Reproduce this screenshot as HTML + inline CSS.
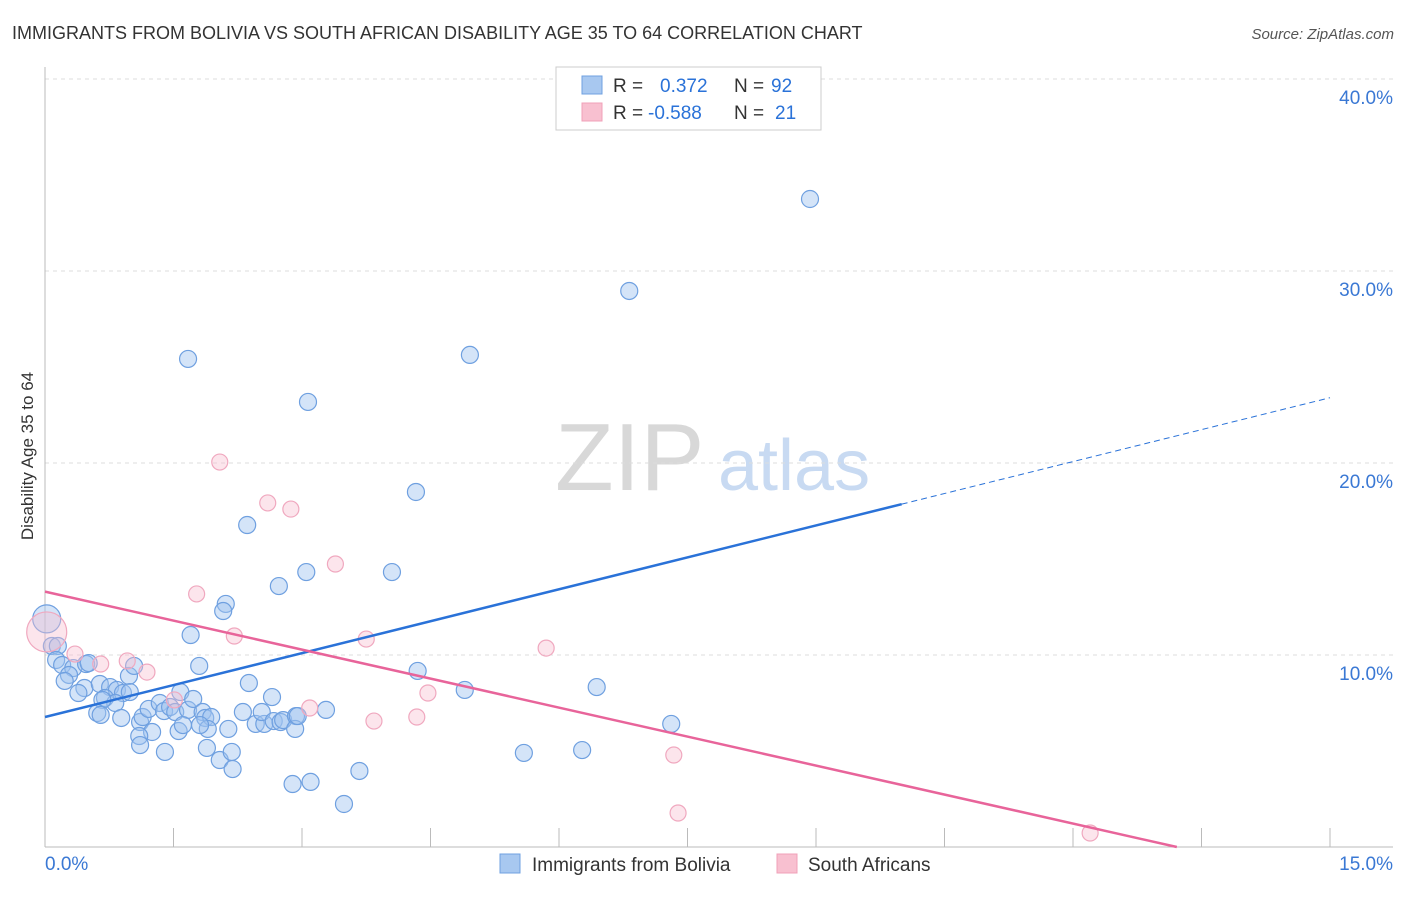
<!DOCTYPE html>
<html><head><meta charset="utf-8"><style>
body{margin:0;background:#fff;font-family:"Liberation Sans",sans-serif}
svg text{font-family:"Liberation Sans",sans-serif}
</style></head><body>
<svg id="chart" width="1406" height="892" xmlns="http://www.w3.org/2000/svg">
<text x="12" y="39" font-size="18" fill="#333">IMMIGRANTS FROM BOLIVIA VS SOUTH AFRICAN DISABILITY AGE 35 TO 64 CORRELATION CHART</text>
<text x="1394" y="39" font-size="15" fill="#555" text-anchor="end" font-style="italic">Source: ZipAtlas.com</text>
<text transform="translate(33,456) rotate(-90)" font-size="17" fill="#333" text-anchor="middle">Disability Age 35 to 64</text>
<g>
<text x="555" y="490" font-size="96" fill="#d8d8d8" font-family="Liberation Serif,serif">ZIP</text>
<text x="718" y="490" font-size="72" fill="#c8daf2">atlas</text>
</g>
<g id="grid"></g>
<g id="axes"></g>
<g id="marks"></g>
<g>
<rect x="556" y="67" width="265" height="63" fill="#fff" stroke="#ccc"/>
<rect x="582" y="76" width="20" height="18" fill="#a8c8f0" stroke="#6fa0e0"/>
<rect x="582" y="103" width="20" height="18" fill="#f8c0d0" stroke="#f0a0b8"/>
<text x="613" y="92" font-size="19" fill="#333">R =</text>
<text x="660" y="92" font-size="19" fill="#2a72d8">0.372</text>
<text x="734" y="92" font-size="19" fill="#333">N =</text>
<text x="771" y="92" font-size="19" fill="#2a72d8">92</text>
<text x="613" y="119" font-size="19" fill="#333">R =</text>
<text x="648" y="119" font-size="19" fill="#2a72d8">-0.588</text>
<text x="734" y="119" font-size="19" fill="#333">N =</text>
<text x="775" y="119" font-size="19" fill="#2a72d8">21</text>
</g>
<g>
<rect x="500" y="854" width="20" height="19" fill="#a8c8f0" stroke="#6fa0e0"/>
<text x="532" y="871" font-size="19" fill="#333">Immigrants from Bolivia</text>
<rect x="777" y="854" width="20" height="19" fill="#f8c0d0" stroke="#f0a0b8"/>
<text x="808" y="871" font-size="19" fill="#333">South Africans</text>
</g>
</svg>
<script>
const yTicks=[10,20,30,40];
const yTickLabels=["10.0%","20.0%","30.0%","40.0%"];
const xTicks=[0,1.5,3,4.5,6,7.5,9,10.5,12,13.5,15];
const blueX=[8.93,6.82,1.67,4.96,3.07,4.33,2.36,4.05,3.05,2.73,2.11,2.08,1.70,0.02,0.08,0.15,0.13,0.20,0.33,0.48,0.51,0.28,0.23,0.46,0.39,0.64,0.76,0.84,0.91,0.98,1.04,0.99,0.70,0.82,0.67,0.61,0.65,0.89,1.11,1.14,1.25,1.21,1.34,1.39,1.46,1.52,1.58,1.67,1.73,1.80,1.84,1.87,1.94,1.90,1.81,1.56,1.61,1.10,1.11,1.40,1.89,2.04,2.18,2.19,2.14,2.31,2.38,2.46,2.56,2.53,2.65,2.67,2.75,2.78,2.93,2.92,3.28,2.95,2.89,3.10,3.49,3.67,4.35,4.90,5.59,6.27,6.44,7.31];
const blueY=[33.75,28.96,25.42,25.63,23.18,18.49,16.77,14.32,14.32,13.59,12.66,12.29,11.04,11.88,10.47,10.47,9.74,9.48,9.32,9.53,9.58,8.96,8.65,8.28,8.02,8.49,8.33,8.18,8.02,8.91,9.43,8.07,7.76,7.5,7.66,6.98,6.88,6.72,6.51,6.77,5.99,7.19,7.5,7.08,7.29,7.03,8.07,7.14,7.71,9.43,7.03,6.72,6.77,6.15,6.35,6.04,6.35,5.78,5.31,4.95,5.16,4.53,4.95,4.06,6.15,7.03,8.54,6.41,6.41,7.03,7.81,6.56,6.51,6.61,6.82,6.15,7.14,6.82,3.28,3.39,2.24,3.96,9.17,8.18,4.90,5.05,8.33,6.41];
const pinkX=[0.02,0.35,0.65,0.96,1.19,1.51,1.77,2.04,2.21,2.60,2.87,3.39,3.75,3.09,3.84,4.34,4.47,5.85,7.34,7.39,12.2];
const pinkY=[11.2,10.05,9.53,9.69,9.11,7.66,13.18,20.05,10.99,17.92,17.6,14.74,10.83,7.24,6.56,6.77,8.02,10.36,4.79,1.77,0.73];
const blueTrend=[6.77,23.4]; // y at x=0 and x=15
const pinkTrend=[13.3,-1.8];
const X0=45,X1=1330,Y0=847,PXY=19.2;
const sx=v=>X0+v*(X1-X0)/15, sy=v=>Y0-v*PXY;
const NS="http://www.w3.org/2000/svg";
function mk(p,t,a){const e=document.createElementNS(NS,t);for(const k in a)e.setAttribute(k,a[k]);document.getElementById(p).appendChild(e);return e;}
yTicks.forEach((t,i)=>{
 const g=mk('grid','line',{x1:X0,x2:1393,y1:sy(t),y2:sy(t),stroke:'#ddd','stroke-dasharray':'4,4'});
 
 
 const l=mk('grid','text',{x:1393,y:sy(t)+25,'font-size':19,fill:'#3a78d4','text-anchor':'end'});
 l.textContent=yTickLabels[i];
 
 
});
const ax=mk('axes','line',{x1:X0,x2:X0,y1:67,y2:Y0,stroke:'#bbb'});


const bx=mk('axes','line',{x1:X0,x2:1393,y1:Y0,y2:Y0,stroke:'#bbb'});


xTicks.forEach(t=>{const k=mk('axes','line',{x1:sx(t),x2:sx(t),y1:828,y2:Y0,stroke:'#bbb'});
 
 });
const xl0=mk('axes','text',{x:45,y:870,'font-size':19,fill:'#3a78d4'});xl0.textContent='0.0%';


const xl1=mk('axes','text',{x:1393,y:870,'font-size':19,fill:'#3a78d4','text-anchor':'end'});xl1.textContent='15.0%';


blueX.forEach((x,i)=>{const c=mk('marks','circle',{cx:sx(x),cy:sy(blueY[i]),r:i==13?14:8.5,fill:'rgba(160,196,240,0.45)',stroke:'#6fa0e0','stroke-width':1.2});
 
 });
pinkX.forEach((x,i)=>{const c=mk('marks','circle',{cx:sx(x),cy:sy(pinkY[i]),r:i==0?20:8,fill:'rgba(248,190,208,0.4)',stroke:'#f0a8bf','stroke-width':1.2});
 
 });
const bAt=x=>blueTrend[0]+(blueTrend[1]-blueTrend[0])*x/15;
const b1=mk('marks','line',{x1:sx(0),y1:sy(bAt(0)),x2:sx(10),y2:sy(bAt(10)),stroke:'#2a72d8','stroke-width':2.5});


const b2=mk('marks','line',{x1:sx(10),y1:sy(bAt(10)),x2:sx(15),y2:sy(bAt(15)),stroke:'#2a72d8','stroke-width':1,'stroke-dasharray':'6,4'});


const pAt=x=>pinkTrend[0]+(pinkTrend[1]-pinkTrend[0])*x/15;
const xz=15*pinkTrend[0]/(pinkTrend[0]-pinkTrend[1]);
const p1=mk('marks','line',{x1:sx(0),y1:sy(pAt(0)),x2:sx(xz),y2:sy(0),stroke:'#e8649a','stroke-width':2.5});


</script>
</body></html>
